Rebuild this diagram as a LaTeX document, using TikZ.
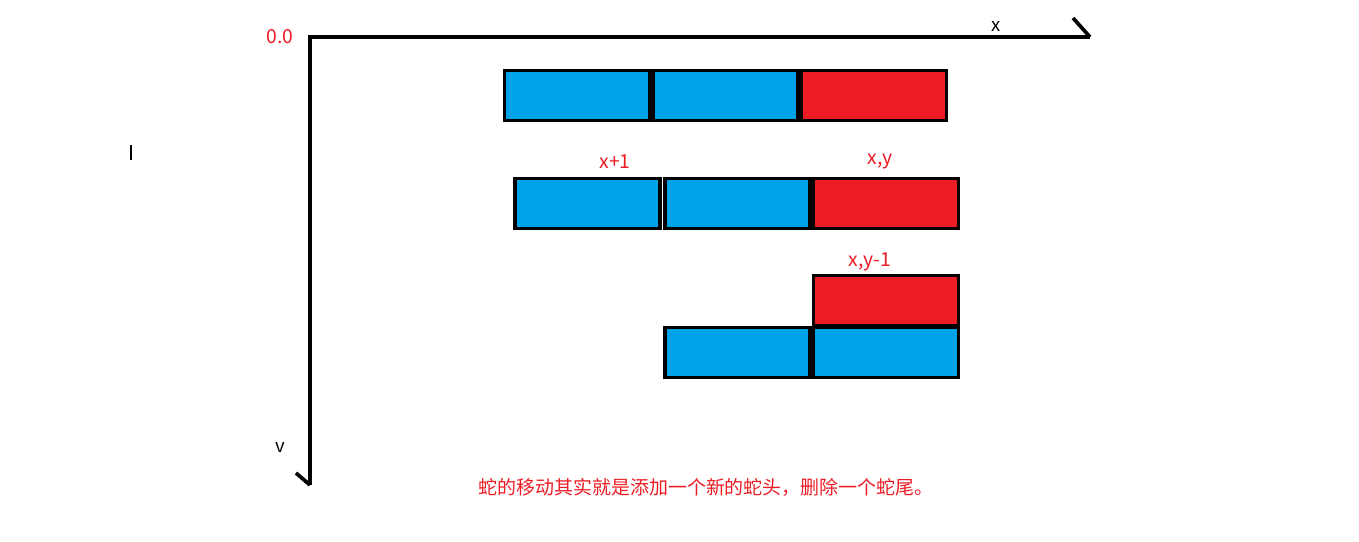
\documentclass[tikz,border=0pt]{standalone}
\usepackage{fontspec}
\newfontfamily\cjk{Noto Sans CJK SC}
\usepackage{xcolor}
\definecolor{snakeblue}{HTML}{00A2E8}
\definecolor{snakered}{HTML}{ED1C24}
\usepackage{tikz}
\usetikzlibrary{positioning}

\begin{document}
\begin{tikzpicture}[x=0.02cm, y=-0.02cm,
  seg/.style={draw=black, line width=2.1pt, minimum width=2.9cm, minimum height=1.0cm,
              inner sep=0pt, outer sep=0pt},
  body/.style={seg, fill=snakeblue},
  head/.style={seg, fill=snakered},
  axis/.style={draw=black, line width=2.1pt},
  lab/.style={font=\cjk\fontsize{11}{13}\selectfont, text=snakered, inner sep=0pt},
  axlab/.style={font=\cjk\fontsize{10.5}{12}\selectfont, inner sep=0pt}]
  \useasboundingbox (0,0) rectangle (1359,541);
  % axes
  \coordinate (o) at (310,37);
  \coordinate (xe) at (1090,37);
  \coordinate (xt) at (1073,18);
  \coordinate (ye) at (310,485);
  \coordinate (yt) at (296,473);
  \draw[axis] (xe) -- (o) -- (ye);
  \draw[axis] (xt) -- (xe);
  \draw[axis] (yt) -- (ye);
  \node[lab] (orig) at (280,37) {0.0};
  \node[axlab] (xlab) at (996,26) {x};
  \node[axlab] (ylab) at (280,447) {v};
  \coordinate (hA) at (131,145);
  \coordinate (hB) at (131,160);
  \draw[line width=0.8pt] (hA) -- (hB);
  % row 1: snake before the move
  \node[body] (b11) at (577,95.5) {};
  \node[body] (b12) at (725.5,95.5) {};
  \node[head] (h1) at (874,95.5) {};
  % row 2: moving right
  \node[body] (b21) at (587.5,203.5) {};
  \node[body] (b22) at (737.5,203.5) {};
  \node[head] (h2) at (886,203.5) {};
  \node[lab] (l21) at (615,162) {x+1};
  \node[lab] (l22) at (880,162) {x,y};
  % row 3: turning up
  \node[head] (h3) at (886,300.5) {};
  \node[body] (b31) at (737.5,352.5) {};
  \node[body] (b32) at (886,352.5) {};
  \node[lab] (l3) at (870,262) {x,y-1};
  % note
  \node[lab, font=\cjk\fontsize{10.8}{12}\selectfont] (note) at (706,487)
    {蛇的移动其实就是添加一个新的蛇头，删除一个蛇尾。};
\end{tikzpicture}
\end{document}
